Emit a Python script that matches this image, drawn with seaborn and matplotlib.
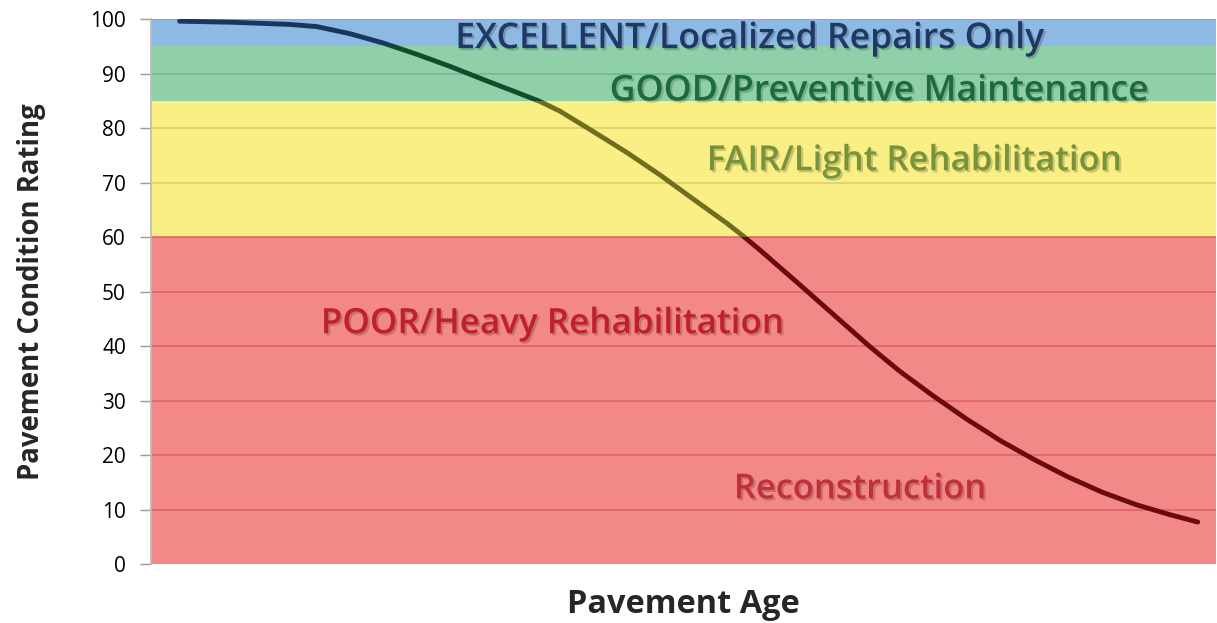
import matplotlib
matplotlib.use("Agg")
import matplotlib.pyplot as plt
import matplotlib.patheffects as pe
from matplotlib.patches import Rectangle
import pandas as pd
import seaborn as sns

# deterioration curve (age axis has no units, 0-100 across the plot)
age = [2.7, 7.7, 13.1, 15.6, 18.7, 21.8, 25.0, 28.1, 31.2, 34.4, 36.5,
       38.4, 41.5, 44.7, 47.8, 50.9, 54.1, 55.6, 57.2, 60.9, 67.5,
       70.3, 73.5, 76.6, 79.8, 83.0, 86.1, 89.3, 92.5, 95.6, 98.3]
pcr = [99.6, 99.4, 99.0, 98.6, 97.3, 95.6, 93.5, 91.3, 88.9, 86.5, 84.9,
       83.1, 79.4, 75.5, 71.4, 67.0, 62.5, 60.2, 57.6, 51.3, 39.9,
       35.4, 30.8, 26.6, 22.6, 19.1, 16.0, 13.2, 10.9, 9.1, 7.7]

# condition bands
band_low = [95, 85, 60, 0]
band_high = [100, 95, 85, 60]
band_fill = ["#8DB9E2", "#8FD0A9", "#F9EF85", "#F28888"]
band_grid = ["#7FA8CF", "#74B892", "#DCD26E", "#DE6468"]
band_line = ["#17375E", "#0D4F2B", "#6E6E1E", "#6A0A0E"]

# labels inside the bands
labels = ["EXCELLENT/Localized Repairs Only", "GOOD/Preventive Maintenance",
          "FAIR/Light Rehabilitation", "POOR/Heavy Rehabilitation", "Reconstruction"]
label_x = [56.2, 68.3, 71.7, 37.7, 66.6]
label_y = [96.3, 86.7, 73.9, 44.0, 13.7]
label_col = ["#1F3864", "#1E6B3A", "#77933C", "#C0202A", "#C0303A"]
label_w = [588, 539, 415, 463, 252]   # rendered width in px

yticks = [0, 10, 20, 30, 40, 50, 60, 70, 80, 90, 100]

sns.set_theme(style="white")
plt.rcParams['font.family'] = ['Open Sans', 'DejaVu Sans']

fig = plt.figure(figsize=(12.17, 6.23), dpi=100)
ax = fig.add_axes([0.124, 0.0947, 0.875, 0.8748])
renderer = fig.canvas.get_renderer()


def fit_width(t, px):
    w = t.get_window_extent(renderer).width
    t.set_fontsize(t.get_fontsize() * px / w)


for lo, hi, c in zip(band_low, band_high, band_fill):
    ax.axhspan(lo, hi, color=c, lw=0, zorder=0)

# grid lines, tinted to the band they fall in
for t in yticks[1:]:
    for lo, hi, g in zip(band_low, band_high, band_grid):
        if lo < t <= hi:
            ax.axhline(t, color=g, lw=1.2, zorder=1)

df = pd.DataFrame({"age": age, "pcr": pcr})
for lo, hi, lc in zip(band_low, band_high, band_line):
    sns.lineplot(data=df, x="age", y="pcr", ax=ax, color=lc, lw=3.5,
                 solid_capstyle="round", solid_joinstyle="round", zorder=3)
    clip = Rectangle((0, lo), 100, hi - lo, transform=ax.transData)
    ax.lines[-1].set_clip_path(clip)

shadow = [pe.withSimplePatchShadow(offset=(1.5, -1.5), shadow_rgbFace="black", alpha=0.18)]
for txt, x, y, c, w in zip(labels, label_x, label_y, label_col, label_w):
    t = ax.text(x, y, txt, color=c, fontsize=20, fontweight=600, ha="center",
                va="center", zorder=4, path_effects=shadow)
    fit_width(t, w)

ax.set_xlim(0, 100)
ax.set_ylim(0, 100)
ax.set_yticks(yticks)
ax.set_xticks([])
ax.tick_params(axis="y", labelsize=15, length=8, width=1, color="#999999",
               left=True, pad=10, labelcolor="black")
for side in ["top", "right", "bottom"]:
    ax.spines[side].set_visible(False)
ax.spines["left"].set_color("#BBBBBB")

ylab = ax.set_ylabel("Pavement Condition Rating", fontsize=19, fontweight="bold", labelpad=32)
xlab = ax.set_xlabel("Pavement Age", fontsize=20, fontweight="bold", labelpad=17)
fit_width(xlab, 233)
ylab.set_fontsize(ylab.get_fontsize() * 375 / ylab.get_window_extent(renderer).height)

fig.savefig("out.png", dpi=100)
